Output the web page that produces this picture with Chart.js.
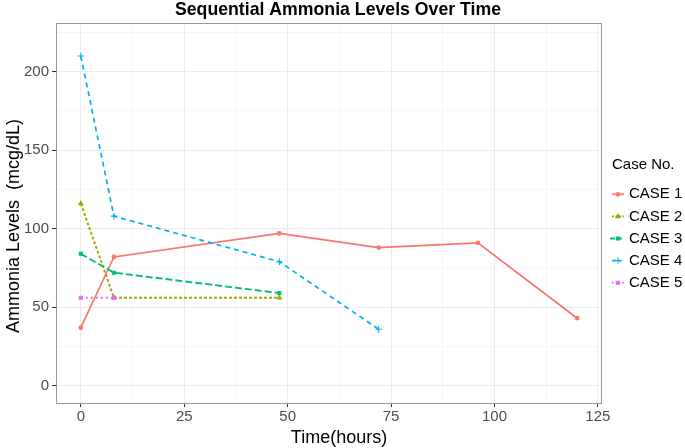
<!DOCTYPE html>
<html><head><meta charset="utf-8">
<script src="https://cdn.jsdelivr.net/npm/chart.js@4"></script>
<style>html,body{margin:0;padding:0;background:#fff}#wrap{width:685px;height:448px}</style>
</head><body><div id="wrap"><canvas id="c" width="685" height="448"></canvas></div>
<script>
const chartTitle = 'Sequential Ammonia Levels Over Time';
const xTitle = 'Time(hours)';
const yTitle = 'Ammonia Levels  (mcg/dL)';
const legendTitle = 'Case No.';
const caseNames = ['CASE 1', 'CASE 2', 'CASE 3', 'CASE 4', 'CASE 5'];

const hours1 = [0, 8, 48, 72, 96, 120];
const case1  = [37, 82, 97, 88, 91, 43];
const hours2 = [0, 8, 48];
const case2  = [116, 56, 56];
const hours3 = [0, 8, 48];
const case3  = [84, 72, 59];
const hours4 = [0, 8, 48, 72];
const case4  = [210, 108, 79, 36];
const hours5 = [0, 8];
const case5  = [56, 56];

const xTickLabels = [0, 25, 50, 75, 100, 125];
const xMinorTicks = [12.5, 37.5, 62.5, 87.5, 112.5];
const yTickLabels = [0, 50, 100, 150, 200];
const yMinorTicks = [25, 75, 125, 175, 225];

const FONT = '"Liberation Sans", Arial, Helvetica, sans-serif';
const colors = ['#F8766D', '#A3A500', '#00BF7D', '#00B0F6', '#E76BF3'];
const dashes = [[], [3, 2], [7, 3], [5, 4], [2, 3]];
const widths = [1.7, 1.9, 1.9, 1.7, 1.9];
const pStyles = ['circle', 'triangle', 'rect', 'cross', 'rect'];
const pRadius = [1.8, 2.4, 2.1, 3.2, 2.1];

const hoursList = [hours1, hours2, hours3, hours4, hours5];
const valueList = [case1, case2, case3, case4, case5];

const datasets = caseNames.map((name, i) => ({
  label: name,
  data: hoursList[i].map((h, j) => ({x: h, y: valueList[i][j]})),
  borderColor: colors[i],
  backgroundColor: colors[i],
  borderWidth: widths[i],
  borderDash: dashes[i],
  pointStyle: pStyles[i],
  pointRadius: pRadius[i],
  pointBorderWidth: 1.1,
  pointHoverRadius: pRadius[i],
  tension: 0,
  fill: false,
  order: 5 - i
}));

const decor = {
  id: 'decor',
  afterDraw(chart) {
    const ctx = chart.ctx, a = chart.chartArea;
    ctx.save();
    ctx.strokeStyle = '#9a9a9a';
    ctx.lineWidth = 1;
    ctx.setLineDash([]);
    ctx.strokeRect(Math.round(a.left) + 0.5, Math.round(a.top) + 0.5, Math.round(a.right - a.left) - 1, Math.round(a.bottom - a.top));
    ctx.fillStyle = '#000';
    ctx.textAlign = 'center';
    ctx.textBaseline = 'middle';
    ctx.font = 'bold 17.7px ' + FONT;
    ctx.fillText(chartTitle, 338, 10.5);
    ctx.font = '18px ' + FONT;
    ctx.fillText(xTitle, 339, 438);
    ctx.save();
    ctx.translate(14, 226);
    ctx.rotate(-Math.PI / 2);
    ctx.fillText(yTitle, 0, 0);
    ctx.restore();
    ctx.textAlign = 'left';
    ctx.font = '15px ' + FONT;
    ctx.fillText(legendTitle, 612, 165);
    caseNames.forEach((name, i) => {
      const y = 194.3 + 22.1 * i;
      ctx.strokeStyle = colors[i];
      ctx.fillStyle = colors[i];
      ctx.lineWidth = i === 2 ? 2.2 : widths[i];
      ctx.setLineDash(dashes[i].map(d => d * 0.7));
      ctx.beginPath();
      ctx.moveTo(i === 2 ? 610 : 612, y);
      ctx.lineTo(624, y);
      ctx.stroke();
      ctx.setLineDash([]);
      ctx.lineWidth = 1.1;
      Chart.helpers.drawPoint(ctx, {pointStyle: pStyles[i], radius: pRadius[i], rotation: 0, borderWidth: 1.1}, 618, y);
      ctx.fillStyle = '#000';
      ctx.fillText(name, 629, y);
    });
    ctx.restore();
  }
};

const isMajorX = v => xTickLabels.includes(v);
const isMajorY = v => yTickLabels.includes(v);

new Chart(document.getElementById('c'), {
  type: 'line',
  data: {datasets},
  plugins: [decor],
  options: {
    responsive: false,
    devicePixelRatio: 1,
    animation: false,
    layout: {padding: {left: 0, top: 23, right: 83, bottom: 0}},
    plugins: {legend: {display: false}, title: {display: false}, tooltip: {enabled: false}},
    scales: {
      x: {
        type: 'linear', min: -6, max: 126,
        afterBuildTicks: s => { s.ticks = xTickLabels.concat(xMinorTicks).sort((p, q) => p - q).map(v => ({value: v})); },
        afterFit: s => { s.height = 45; },
        ticks: {
          autoSkip: false, maxRotation: 0, padding: 1, color: '#4D4D4D',
          font: {family: FONT, size: 15},
          callback: v => isMajorX(v) ? String(v) : ''
        },
        grid: {
          color: c => isMajorX(c.tick.value) ? '#EBEBEB' : '#F4F4F4',
          lineWidth: c => isMajorX(c.tick.value) ? 1 : 0.8,
          tickColor: c => isMajorX(c.tick.value) ? '#333333' : 'rgba(0,0,0,0)',
          tickLength: 4, tickWidth: 1
        },
        border: {display: false}
      },
      y: {
        type: 'linear', min: -11, max: 231,
        afterBuildTicks: s => { s.ticks = yTickLabels.concat(yMinorTicks).sort((p, q) => p - q).map(v => ({value: v})); },
        afterFit: s => { s.width = 56; },
        ticks: {
          autoSkip: false, padding: 3, color: '#4D4D4D',
          font: {family: FONT, size: 15},
          callback: v => isMajorY(v) ? String(v) : ''
        },
        grid: {
          color: c => isMajorY(c.tick.value) ? '#EBEBEB' : '#F4F4F4',
          lineWidth: c => isMajorY(c.tick.value) ? 1 : 0.8,
          tickColor: c => isMajorY(c.tick.value) ? '#333333' : 'rgba(0,0,0,0)',
          tickLength: 4, tickWidth: 1
        },
        border: {display: false}
      }
    }
  }
});
</script>
</body></html>
